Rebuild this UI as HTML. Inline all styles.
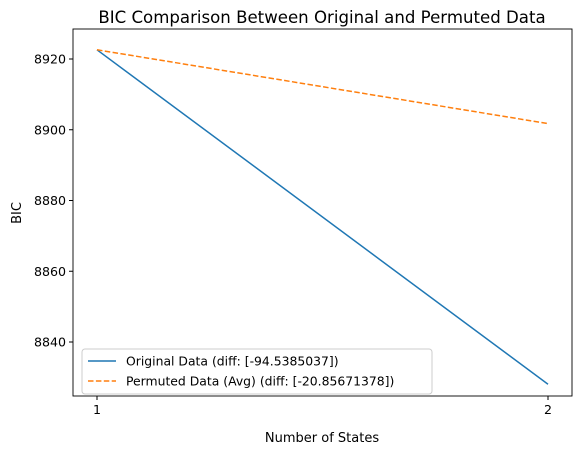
<!DOCTYPE html>
<html><head><meta charset="utf-8"><style>
body{margin:0;background:#fff;}
svg{display:block;font-family:"DejaVu Sans","Liberation Sans",sans-serif;}
</style></head><body>
<svg id="chart" width="580" height="455">
<rect width="580" height="455" fill="#fff"/>
<text x="322" y="23" text-anchor="middle" font-size="16.6">BIC Comparison Between Original and Permuted Data</text>
<g id="plot"></g>
<rect x="73" y="29" width="499" height="367" fill="none" stroke="#000" stroke-width="0.9"/>
<text x="322" y="442" text-anchor="middle" font-size="13">Number of States</text>
<text transform="translate(21,213) rotate(-90)" text-anchor="middle" font-size="13">BIC</text>
<g>
<rect x="82" y="349" width="350" height="45" rx="3" fill="#fff" fill-opacity="0.8" stroke="#ccc"/>
<line x1="88" y1="361" x2="116" y2="361" stroke="#1f77b4" stroke-width="1.5"/>
<text x="126" y="365.5" font-size="12.4">Original Data (diff: [-94.5385037])</text>
<line x1="88" y1="381" x2="116" y2="381" stroke="#ff7f0e" stroke-width="1.5" stroke-dasharray="5.5,2.4"/>
<text x="126" y="385.5" font-size="12.4">Permuted Data (Avg) (diff: [-20.85671378])</text>
</g>
</svg>
<script>
const states=[1,2];
const original=[8922.6,8828.06];
const permuted=[8922.6,8901.74];
const yTicks=[8840,8860,8880,8900,8920];
const xTicks=[1,2];
const NS="http://www.w3.org/2000/svg";
const X0=73,X1=572,Y0=29,Y1=396;
function sx(v){return 97+(v-1)*451;}
function sy(v){return 59+(8920-v)*3.5375;}
const g=document.getElementById('plot');
function mk(t,a){const e=document.createElementNS(NS,t);for(const k in a)e.setAttribute(k,a[k]);g.appendChild(e);return e;}
yTicks.forEach(v=>{
 const y=sy(v);
 const l=mk('line',{x1:X0-4,x2:X0,y1:y,y2:y,stroke:'#000'});
 
 
 const t=mk('text',{x:X0-7,y:y+4.5,'text-anchor':'end','font-size':'12.6'});
 t.textContent=v;
 
 
});
xTicks.forEach(v=>{
 const x=sx(v);
 const l=mk('line',{x1:x,x2:x,y1:Y1,y2:Y1+4,stroke:'#000'});
 
 
 const t=mk('text',{x:x,y:Y1+18,'text-anchor':'middle','font-size':'12.6'});
 t.textContent=v;
 
 
});
function pts(arr){return states.map((s,i)=>sx(s)+','+sy(arr[i])).join(' ');}
const p1=mk('polyline',{points:pts(original),fill:'none',stroke:'#1f77b4','stroke-width':1.5});


const p2=mk('polyline',{points:pts(permuted),fill:'none',stroke:'#ff7f0e','stroke-width':1.5,'stroke-dasharray':'5.5,2.4'});


</script>
</body></html>
